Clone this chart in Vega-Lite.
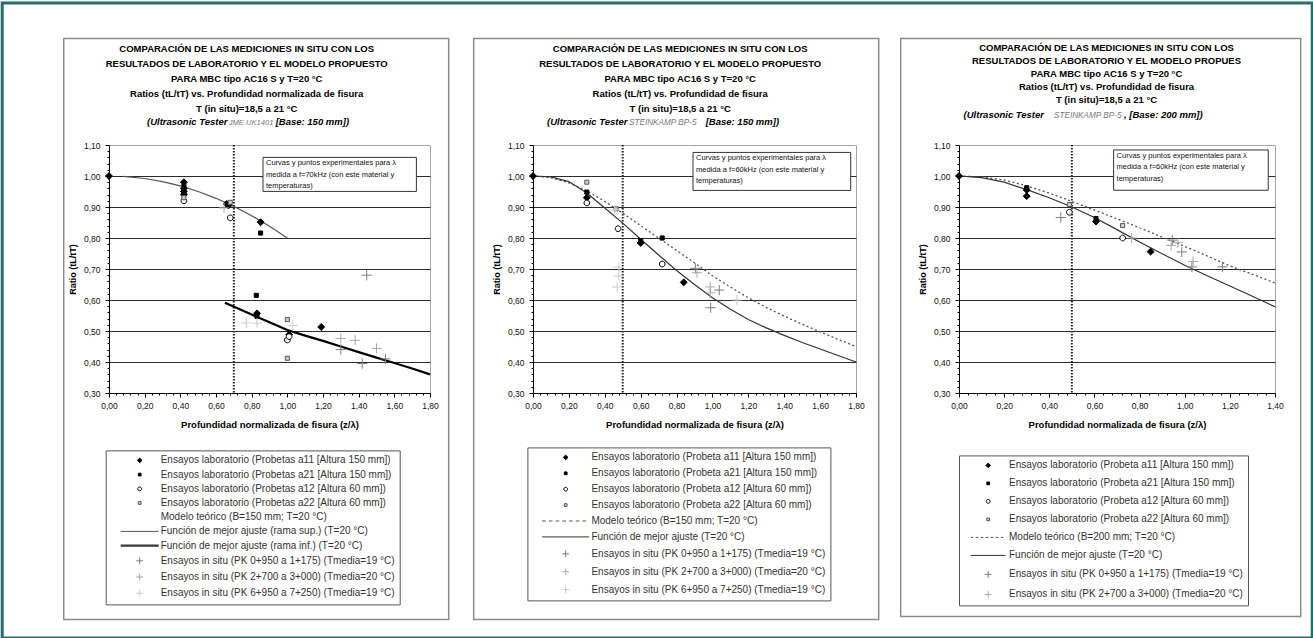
{
"$schema": "https://vega.github.io/schema/vega-lite/v6.json",
"padding": 0,
"background": "white",
"bounds": "flush",
"spacing": 103,
"config": {
 "font": "Liberation Sans",
 "view": {"stroke": "#a5a5a5", "strokeWidth": 1},
 "axis": {"labelFont": "Liberation Sans", "titleFont": "Liberation Sans", "domainColor": "#000", "tickColor": "#000", "labelColor": "#111", "titleColor": "#000", "labelFontSize": 8.5, "titleFontWeight": "bold", "labelFlush": false},
 "axisX": {"labelPadding": 4, "titleFontSize": 9.5, "titlePadding": 10},
 "axisY": {"labelPadding": 5, "titleFontSize": 9, "titlePadding": 6, "gridColor": "#2a2a2a", "gridWidth": 1.2},
 "legend": {"labelFont": "Liberation Sans"},
 "text": {"font": "Liberation Sans"}
},
"resolve": {"scale": {"shape": "independent", "fill": "independent", "stroke": "independent"}, "legend": {"shape": "independent", "fill": "independent", "stroke": "independent"}},
"datasets": {
 "p1pts": [
  {"x":0,"y":1.0,"s":"a11"},{"x":0.42,"y":0.98,"s":"a11"},{"x":0.42,"y":0.96,"s":"a11"},{"x":0.42,"y":0.95,"s":"a11"},{"x":0.42,"y":0.94,"s":"a11"},{"x":0.66,"y":0.91,"s":"a11"},{"x":0.67,"y":0.905,"s":"a11"},{"x":0.85,"y":0.851,"s":"a11"},{"x":0.83,"y":0.557,"s":"a11"},{"x":1.01,"y":0.488,"s":"a11"},{"x":1.19,"y":0.513,"s":"a11"},
  {"x":0.42,"y":0.967,"s":"a21"},{"x":0.85,"y":0.816,"s":"a21"},{"x":0.826,"y":0.615,"s":"a21"},{"x":0.83,"y":0.547,"s":"a21"},
  {"x":0.42,"y":0.92,"s":"a12"},{"x":0.68,"y":0.865,"s":"a12"},{"x":1.0,"y":0.471,"s":"a12"},{"x":1.01,"y":0.482,"s":"a12"},
  {"x":0.42,"y":0.93,"s":"a22"},{"x":0.68,"y":0.915,"s":"a22"},{"x":1.0,"y":0.537,"s":"a22"},{"x":1.0,"y":0.412,"s":"a22"},
  {"x":1.445,"y":0.68,"s":"i1"},{"x":1.3,"y":0.44,"s":"i1"},{"x":1.42,"y":0.395,"s":"i1"},{"x":1.55,"y":0.41,"s":"i1"},
  {"x":1.3,"y":0.476,"s":"i2"},{"x":1.38,"y":0.47,"s":"i2"},{"x":1.5,"y":0.444,"s":"i2"},{"x":0.645,"y":0.897,"s":"i2"},
  {"x":0.77,"y":0.526,"s":"i3"},{"x":0.83,"y":0.525,"s":"i3"},{"x":1.03,"y":0.518,"s":"i3"}
 ],
 "p1lines": [
  {"x":0.08,"y":0.999,"s":"sup"},{"x":0.2,"y":0.992,"s":"sup"},{"x":0.3,"y":0.982,"s":"sup"},{"x":0.4,"y":0.968,"s":"sup"},{"x":0.5,"y":0.95,"s":"sup"},{"x":0.6,"y":0.928,"s":"sup"},{"x":0.7,"y":0.902,"s":"sup"},{"x":0.8,"y":0.872,"s":"sup"},{"x":0.9,"y":0.838,"s":"sup"},{"x":1.0,"y":0.8,"s":"sup"},
  {"x":0.65,"y":0.591,"s":"inf"},{"x":0.8,"y":0.553,"s":"inf"},{"x":0.9,"y":0.528,"s":"inf"},{"x":1.0,"y":0.503,"s":"inf"},{"x":1.1,"y":0.485,"s":"inf"},{"x":1.2,"y":0.468,"s":"inf"},{"x":1.3,"y":0.45,"s":"inf"},{"x":1.4,"y":0.432,"s":"inf"},{"x":1.5,"y":0.414,"s":"inf"},{"x":1.6,"y":0.397,"s":"inf"},{"x":1.7,"y":0.379,"s":"inf"},{"x":1.8,"y":0.36,"s":"inf"}
 ],
 "p2pts": [
  {"x":0,"y":1.0,"s":"a11"},{"x":0.3,"y":0.93,"s":"a11"},{"x":0.6,"y":0.784,"s":"a11"},{"x":0.84,"y":0.657,"s":"a11"},
  {"x":0.3,"y":0.948,"s":"a21"},{"x":0.6,"y":0.792,"s":"a21"},{"x":0.72,"y":0.8,"s":"a21"},
  {"x":0.3,"y":0.913,"s":"a12"},{"x":0.474,"y":0.83,"s":"a12"},{"x":0.72,"y":0.716,"s":"a12"},
  {"x":0.3,"y":0.98,"s":"a22"},{"x":0.463,"y":0.894,"s":"a22"},
  {"x":0.905,"y":0.702,"s":"i1"},{"x":1.038,"y":0.632,"s":"i1"},{"x":0.99,"y":0.575,"s":"i1"},
  {"x":0.914,"y":0.688,"s":"i2"},{"x":0.988,"y":0.642,"s":"i2"},{"x":0.988,"y":0.623,"s":"i2"},
  {"x":0.455,"y":0.89,"s":"i3"},{"x":0.478,"y":0.706,"s":"i3"},{"x":0.478,"y":0.677,"s":"i3"},{"x":0.469,"y":0.642,"s":"i3"},{"x":1.136,"y":0.6,"s":"i3"}
 ],
 "p2lines": [
  {"x":0,"y":1.0,"s":"fit"},{"x":0.1,"y":0.997,"s":"fit"},{"x":0.2,"y":0.982,"s":"fit"},{"x":0.3,"y":0.945,"s":"fit"},{"x":0.4,"y":0.897,"s":"fit"},{"x":0.5,"y":0.848,"s":"fit"},{"x":0.6,"y":0.796,"s":"fit"},{"x":0.7,"y":0.745,"s":"fit"},{"x":0.8,"y":0.695,"s":"fit"},{"x":0.9,"y":0.65,"s":"fit"},{"x":1.0,"y":0.607,"s":"fit"},{"x":1.1,"y":0.57,"s":"fit"},{"x":1.2,"y":0.537,"s":"fit"},{"x":1.3,"y":0.51,"s":"fit"},{"x":1.4,"y":0.486,"s":"fit"},{"x":1.5,"y":0.463,"s":"fit"},{"x":1.6,"y":0.442,"s":"fit"},{"x":1.7,"y":0.421,"s":"fit"},{"x":1.8,"y":0.4,"s":"fit"},
  {"x":0,"y":1.0,"s":"mod"},{"x":0.1,"y":0.995,"s":"mod"},{"x":0.2,"y":0.978,"s":"mod"},{"x":0.3,"y":0.952,"s":"mod"},{"x":0.4,"y":0.918,"s":"mod"},{"x":0.5,"y":0.88,"s":"mod"},{"x":0.6,"y":0.84,"s":"mod"},{"x":0.7,"y":0.8,"s":"mod"},{"x":0.8,"y":0.76,"s":"mod"},{"x":0.9,"y":0.72,"s":"mod"},{"x":1.0,"y":0.678,"s":"mod"},{"x":1.1,"y":0.642,"s":"mod"},{"x":1.2,"y":0.607,"s":"mod"},{"x":1.3,"y":0.576,"s":"mod"},{"x":1.4,"y":0.548,"s":"mod"},{"x":1.5,"y":0.522,"s":"mod"},{"x":1.6,"y":0.497,"s":"mod"},{"x":1.7,"y":0.473,"s":"mod"},{"x":1.8,"y":0.45,"s":"mod"}
 ],
 "p3pts": [
  {"x":0,"y":1.0,"s":"a11"},{"x":0.3,"y":0.955,"s":"a11"},{"x":0.3,"y":0.935,"s":"a11"},{"x":0.607,"y":0.853,"s":"a11"},{"x":0.849,"y":0.756,"s":"a11"},
  {"x":0.3,"y":0.962,"s":"a21"},{"x":0.607,"y":0.863,"s":"a21"},
  {"x":0.489,"y":0.883,"s":"a12"},{"x":0.725,"y":0.8,"s":"a12"},
  {"x":0.489,"y":0.908,"s":"a22"},{"x":0.725,"y":0.84,"s":"a22"},
  {"x":0.451,"y":0.866,"s":"i1"},{"x":0.945,"y":0.793,"s":"i1"},{"x":0.987,"y":0.755,"s":"i1"},{"x":1.032,"y":0.707,"s":"i1"},{"x":1.167,"y":0.707,"s":"i1"},
  {"x":0.765,"y":0.8,"s":"i2"},{"x":0.94,"y":0.776,"s":"i2"},{"x":0.97,"y":0.785,"s":"i2"},{"x":1.037,"y":0.724,"s":"i2"}
 ],
 "p3lines": [
  {"x":0,"y":1.0,"s":"fit"},{"x":0.1,"y":0.995,"s":"fit"},{"x":0.2,"y":0.98,"s":"fit"},{"x":0.3,"y":0.956,"s":"fit"},{"x":0.4,"y":0.93,"s":"fit"},{"x":0.5,"y":0.9,"s":"fit"},{"x":0.6,"y":0.866,"s":"fit"},{"x":0.7,"y":0.827,"s":"fit"},{"x":0.8,"y":0.787,"s":"fit"},{"x":0.9,"y":0.749,"s":"fit"},{"x":1.0,"y":0.712,"s":"fit"},{"x":1.1,"y":0.678,"s":"fit"},{"x":1.2,"y":0.645,"s":"fit"},{"x":1.3,"y":0.612,"s":"fit"},{"x":1.4,"y":0.578,"s":"fit"},
  {"x":0,"y":1.0,"s":"mod"},{"x":0.1,"y":0.997,"s":"mod"},{"x":0.2,"y":0.987,"s":"mod"},{"x":0.3,"y":0.968,"s":"mod"},{"x":0.4,"y":0.945,"s":"mod"},{"x":0.5,"y":0.918,"s":"mod"},{"x":0.6,"y":0.89,"s":"mod"},{"x":0.7,"y":0.862,"s":"mod"},{"x":0.8,"y":0.833,"s":"mod"},{"x":0.9,"y":0.803,"s":"mod"},{"x":1.0,"y":0.773,"s":"mod"},{"x":1.1,"y":0.742,"s":"mod"},{"x":1.2,"y":0.71,"s":"mod"},{"x":1.3,"y":0.683,"s":"mod"},{"x":1.4,"y":0.655,"s":"mod"}
 ]
},
"hconcat": [
 {
  "width": 321, "height": 248,
  "encoding": {
   "x": {"type": "quantitative", "scale": {"domain": [0, 1.8], "nice": false, "zero": false}, "axis": {"title": "Profundidad normalizada de fisura (z/λ)", "values": [0,0.04,0.08,0.12,0.16,0.2,0.24,0.28,0.32,0.36,0.4,0.44,0.48,0.52,0.56,0.6,0.64,0.68,0.72,0.76,0.8,0.84,0.88,0.92,0.96,1,1.04,1.08,1.12,1.16,1.2,1.24,1.28,1.32,1.36,1.4,1.44,1.48,1.52,1.56,1.6,1.64,1.68,1.72,1.76,1.8], "labelExpr": "abs(datum.value*5-round(datum.value*5))<0.01 ? replace(format(datum.value,'.2f'),'.',',') : ''", "labelOverlap": false, "grid": false, "tickSize": {"condition": {"test": "abs(datum.value*5-round(datum.value*5))<0.01", "value": 4}, "value": 2}}},
   "y": {"type": "quantitative", "scale": {"domain": [0.3, 1.1], "nice": false, "zero": false}, "axis": {"title": "Ratio (tL/tT)", "values": [0.3,0.32,0.34,0.36,0.38,0.4,0.42,0.44,0.46,0.48,0.5,0.52,0.54,0.56,0.58,0.6,0.62,0.64,0.66,0.68,0.7,0.72,0.74,0.76,0.78,0.8,0.82,0.84,0.86,0.88,0.9,0.92,0.94,0.96,0.98,1,1.02,1.04,1.06,1.08,1.1], "labelExpr": "abs(datum.value*10-round(datum.value*10))<0.01 ? replace(format(datum.value,'.2f'),'.',',') : ''", "labelOverlap": false, "grid": true, "gridOpacity": {"condition": {"test": "abs(datum.value*10-round(datum.value*10))<0.01 && datum.value<1.05", "value": 1}, "value": 0}, "tickSize": {"condition": {"test": "abs(datum.value*10-round(datum.value*10))<0.01", "value": 4}, "value": 2}}}
  },
  "layer": [
   {"data": {"values": [{}]}, "mark": {"type": "rect", "fill": "transparent", "stroke": "#23706b", "strokeWidth": 3},
    "encoding": {"x": {"datum": -0.59888}, "x2": {"datum": 6.74692}, "y": {"datum": 1.55839}, "y2": {"datum": -0.49}}},
   {"data": {"values": [{}]}, "mark": {"type": "rect", "fill": "transparent", "stroke": "#8c8c8c", "strokeWidth": 1.5},
    "encoding": {"x": {"datum": -0.25402}, "x2": {"datum": 1.90486}, "y": {"datum": 1.44387}, "y2": {"datum": -0.43032}}},
   {"data": {"values": [{}]}, "mark": {"type": "text", "text": ["COMPARACIÓN DE LAS MEDICIONES IN SITU CON LOS","RESULTADOS DE LABORATORIO Y EL MODELO PROPUESTO","PARA MBC tipo AC16 S  y T=20 °C","Ratios (tL/tT) vs. Profundidad normalizada de fisura","T (in situ)=18,5 a 21 °C"], "align": "center", "baseline": "alphabetic", "fontSize": 9.5, "fontWeight": "bold", "lineHeight": 15, "color": "#000"},
    "encoding": {"x": {"datum": 0.7722}, "y": {"datum": 1.4016}}},
   {"data": {"values": [{}]}, "mark": {"type": "text", "text": "(Ultrasonic Tester ", "align": "right", "baseline": "alphabetic", "fontSize": 9.5, "fontWeight": "bold", "fontStyle": "italic", "color": "#000"},
    "encoding": {"x": {"datum": 0.6639}, "y": {"datum": 1.1652}}},
   {"data": {"values": [{}]}, "mark": {"type": "text", "text": "JME UK1401", "align": "left", "baseline": "alphabetic", "fontSize": 7.6, "fontStyle": "italic", "color": "#777"},
    "encoding": {"x": {"datum": 0.6712}, "y": {"datum": 1.1652}}},
   {"data": {"values": [{}]}, "mark": {"type": "text", "text": "[Base: 150 mm])", "align": "left", "baseline": "alphabetic", "fontSize": 9.5, "fontWeight": "bold", "fontStyle": "italic", "color": "#000"},
    "encoding": {"x": {"datum": 0.9345}, "y": {"datum": 1.1652}}},
   {"data": {"values": [{}]}, "mark": {"type": "rect", "fill": "#fff", "stroke": "#333", "strokeWidth": 1},
    "encoding": {"x": {"datum": 0.8636}, "x2": {"datum": 1.7237}, "y": {"datum": 1.06}, "y2": {"datum": 0.9503}}},
   {"data": {"values": [{}]}, "mark": {"type": "text", "text": ["Curvas y puntos experimentales para λ","medida a f=70kHz (con este material y","temperaturas)"], "align": "left", "baseline": "top", "fontSize": 7.5, "lineHeight": 11.3, "color": "#111"},
    "encoding": {"x": {"datum": 0.8804}, "y": {"datum": 1.0535}}},
   {"data": {"values": [{}]}, "mark": {"type": "rule", "stroke": "#222", "strokeDash": [1.5, 1.5], "strokeWidth": 2},
    "encoding": {"x": {"datum": 0.7}, "y": null}},
   {"data": {"name": "p1lines"}, "transform": [{"filter": "datum.s === 'sup'"}], "mark": {"type": "line", "stroke": "#555", "strokeWidth": 1.2},
    "encoding": {"x": {"field": "x"}, "y": {"field": "y"}}},
   {"data": {"name": "p1lines"}, "transform": [{"filter": "datum.s === 'inf'"}], "mark": {"type": "line", "stroke": "#000", "strokeWidth": 2.2},
    "encoding": {"x": {"field": "x"}, "y": {"field": "y"}}},
   {"data": {"name": "p1pts"}, "mark": {"type": "point", "filled": true, "strokeWidth": 1, "opacity": 1, "size": 144},
    "encoding": {
     "x": {"field": "x"}, "y": {"field": "y"},
     "shape": {"field": "s", "type": "nominal",
      "scale": {"domain": ["a11","a21","a12","a22","mod","sup","inf","i1","i2","i3"], "range": ["M0,-0.575L0.575,0L0,0.575L-0.575,0Z","M-0.34,-0.34H0.34V0.34H-0.34Z","M0.475,0A0.475,0.475 0 1,1 -0.475,0A0.475,0.475 0 1,1 0.475,0Z","M-0.34,-0.34H0.34V0.34H-0.34Z","M-4.75,0H4.75","M-4.75,0H4.75","M-4.75,-0.125H4.75M-4.75,0.125H4.75","M-0.85,0H0.85M0,-0.85V0.85","M-0.85,0H0.85M0,-0.85V0.85","M-0.85,0H0.85M0,-0.85V0.85"]},
      "legend": {"title": null, "orient": "none", "legendX": -3.3, "legendY": 305.4, "symbolSize": 64, "symbolStrokeWidth": 1, "padding": 5, "symbolOffset": 24, "labelOffset": 16, "rowPadding": 4.2, "labelFontSize": 10, "labelColor": "#333", "labelLimit": 400, "strokeColor": "#555", "fillColor": "#fff",
       "labelExpr": "{'a11':'Ensayos laboratorio (Probetas a11 [Altura 150 mm])','a21':'Ensayos laboratorio (Probetas a21 [Altura 150 mm])','a12':'Ensayos laboratorio (Probetas a12 [Altura 60 mm])','a22':'Ensayos laboratorio (Probetas a22 [Altura 60 mm])','mod':'Modelo teórico (B=150 mm; T=20 °C)','sup':'Función de mejor ajuste (rama sup.) (T=20 °C)','inf':'Función de mejor ajuste (rama inf.) (T=20 °C)','i1':'Ensayos in situ (PK 0+950 a 1+175) (Tmedia=19 °C)','i2':'Ensayos in situ (PK 2+700 a 3+000) (Tmedia=20 °C)','i3':'Ensayos in situ (PK 6+950 a 7+250) (Tmedia=19 °C)'}[datum.label]"}},
     "fill": {"field": "s", "type": "nominal", "scale": {"domain": ["a11","a21","a12","a22","mod","sup","inf","i1","i2","i3"], "range": ["#000","#000","#fff","#cfcfcf","transparent","transparent","transparent","transparent","transparent","transparent"]}},
     "stroke": {"field": "s", "type": "nominal", "scale": {"domain": ["a11","a21","a12","a22","mod","sup","inf","i1","i2","i3"], "range": ["#000","#000","#000","#555","transparent","#555","#000","#7d7d7d","#a8a8a8","#cccccc"]}}
    }}
  ]
 },
 {
  "width": 323, "height": 248,
  "encoding": {
   "x": {"type": "quantitative", "scale": {"domain": [0, 1.8], "nice": false, "zero": false}, "axis": {"title": "Profundidad normalizada de fisura (z/λ)", "values": [0,0.04,0.08,0.12,0.16,0.2,0.24,0.28,0.32,0.36,0.4,0.44,0.48,0.52,0.56,0.6,0.64,0.68,0.72,0.76,0.8,0.84,0.88,0.92,0.96,1,1.04,1.08,1.12,1.16,1.2,1.24,1.28,1.32,1.36,1.4,1.44,1.48,1.52,1.56,1.6,1.64,1.68,1.72,1.76,1.8], "labelExpr": "abs(datum.value*5-round(datum.value*5))<0.01 ? replace(format(datum.value,'.2f'),'.',',') : ''", "labelOverlap": false, "grid": false, "tickSize": {"condition": {"test": "abs(datum.value*5-round(datum.value*5))<0.01", "value": 4}, "value": 2}}},
   "y": {"type": "quantitative", "scale": {"domain": [0.3, 1.1], "nice": false, "zero": false}, "axis": {"title": "Ratio (tL/tT)", "values": [0.3,0.32,0.34,0.36,0.38,0.4,0.42,0.44,0.46,0.48,0.5,0.52,0.54,0.56,0.58,0.6,0.62,0.64,0.66,0.68,0.7,0.72,0.74,0.76,0.78,0.8,0.82,0.84,0.86,0.88,0.9,0.92,0.94,0.96,0.98,1,1.02,1.04,1.06,1.08,1.1], "labelExpr": "abs(datum.value*10-round(datum.value*10))<0.01 ? replace(format(datum.value,'.2f'),'.',',') : ''", "labelOverlap": false, "grid": true, "gridOpacity": {"condition": {"test": "abs(datum.value*10-round(datum.value*10))<0.01 && datum.value<1.05", "value": 1}, "value": 0}, "tickSize": {"condition": {"test": "abs(datum.value*10-round(datum.value*10))<0.01", "value": 4}, "value": 2}}}
  },
  "layer": [
   {"data": {"values": [{}]}, "mark": {"type": "rect", "fill": "transparent", "stroke": "#8c8c8c", "strokeWidth": 1.5},
    "encoding": {"x": {"datum": -0.33046}, "x2": {"datum": 1.92651}, "y": {"datum": 1.44387}, "y2": {"datum": -0.43032}}},
   {"data": {"values": [{}]}, "mark": {"type": "text", "text": ["COMPARACIÓN DE LAS MEDICIONES IN SITU CON LOS","RESULTADOS DE LABORATORIO Y EL MODELO PROPUESTO","PARA MBC tipo AC16 S  y T=20 °C","Ratios (tL/tT) vs. Profundidad de fisura","T (in situ)=18,5 a 21 °C"], "align": "center", "baseline": "alphabetic", "fontSize": 9.5, "fontWeight": "bold", "lineHeight": 15, "color": "#000"},
    "encoding": {"x": {"datum": 0.8203}, "y": {"datum": 1.4016}}},
   {"data": {"values": [{}]}, "mark": {"type": "text", "text": "(Ultrasonic Tester ", "align": "right", "baseline": "alphabetic", "fontSize": 9.5, "fontWeight": "bold", "fontStyle": "italic", "color": "#000"},
    "encoding": {"x": {"datum": 0.5261}, "y": {"datum": 1.1652}}},
   {"data": {"values": [{}]}, "mark": {"type": "text", "text": "STEINKAMP BP-5", "align": "left", "baseline": "alphabetic", "fontSize": 8.2, "fontStyle": "italic", "color": "#777"},
    "encoding": {"x": {"datum": 0.535}, "y": {"datum": 1.1652}}},
   {"data": {"values": [{}]}, "mark": {"type": "text", "text": "[Base: 150 mm])", "align": "left", "baseline": "alphabetic", "fontSize": 9.5, "fontWeight": "bold", "fontStyle": "italic", "color": "#000"},
    "encoding": {"x": {"datum": 0.9624}, "y": {"datum": 1.1652}}},
   {"data": {"values": [{}]}, "mark": {"type": "rect", "fill": "#fff", "stroke": "#333", "strokeWidth": 1},
    "encoding": {"x": {"datum": 0.8916}, "x2": {"datum": 1.7705}, "y": {"datum": 1.0761}, "y2": {"datum": 0.9535}}},
   {"data": {"values": [{}]}, "mark": {"type": "text", "text": ["Curvas y puntos experimentales para λ","medida a f=60kHz (con este material y","temperaturas)"], "align": "left", "baseline": "top", "fontSize": 7.5, "lineHeight": 11.3, "color": "#111"},
    "encoding": {"x": {"datum": 0.9083}, "y": {"datum": 1.0696}}},
   {"data": {"values": [{}]}, "mark": {"type": "rule", "stroke": "#222", "strokeDash": [1.5, 1.5], "strokeWidth": 2},
    "encoding": {"x": {"datum": 0.5}, "y": null}},
   {"data": {"name": "p2lines"}, "transform": [{"filter": "datum.s === 'mod'"}], "mark": {"type": "line", "stroke": "#555", "strokeWidth": 1.3, "strokeDash": [2, 2.5]},
    "encoding": {"x": {"field": "x"}, "y": {"field": "y"}}},
   {"data": {"name": "p2lines"}, "transform": [{"filter": "datum.s === 'fit'"}], "mark": {"type": "line", "stroke": "#333", "strokeWidth": 1.2},
    "encoding": {"x": {"field": "x"}, "y": {"field": "y"}}},
   {"data": {"name": "p2pts"}, "mark": {"type": "point", "filled": true, "strokeWidth": 1, "opacity": 1, "size": 144},
    "encoding": {
     "x": {"field": "x"}, "y": {"field": "y"},
     "shape": {"field": "s", "type": "nominal",
      "scale": {"domain": ["a11","a21","a12","a22","mod","fit","i1","i2","i3"], "range": ["M0,-0.575L0.575,0L0,0.575L-0.575,0Z","M-0.34,-0.34H0.34V0.34H-0.34Z","M0.475,0A0.475,0.475 0 1,1 -0.475,0A0.475,0.475 0 1,1 0.475,0Z","M-0.34,-0.34H0.34V0.34H-0.34Z","M-5.875,0H-4.975M-4.196,0H-3.296M-2.518,0H-1.618M-0.839,0H0.061M0.839,0H1.739M2.518,0H3.418M4.196,0H5.096","M-5.875,0H5.875","M-0.85,0H0.85M0,-0.85V0.85","M-0.85,0H0.85M0,-0.85V0.85","M-0.85,0H0.85M0,-0.85V0.85"]},
      "legend": {"title": null, "orient": "none", "legendX": -5.6, "legendY": 302.4, "symbolSize": 64, "symbolStrokeWidth": 1, "padding": 5, "symbolOffset": 28.3, "labelOffset": 20.7, "rowPadding": 5.9, "labelFontSize": 10, "labelColor": "#333", "labelLimit": 400, "strokeColor": "#555", "fillColor": "#fff",
       "labelExpr": "{'a11':'Ensayos laboratorio (Probeta a11 [Altura 150 mm])','a21':'Ensayos laboratorio (Probeta a21 [Altura 150 mm])','a12':'Ensayos laboratorio (Probeta a12 [Altura 60 mm])','a22':'Ensayos laboratorio (Probeta a22 [Altura 60 mm])','mod':'Modelo teórico (B=150 mm; T=20 °C)','fit':'Función de mejor ajuste (T=20 °C)','i1':'Ensayos in situ (PK 0+950 a 1+175) (Tmedia=19 °C)','i2':'Ensayos in situ (PK 2+700 a 3+000) (Tmedia=20 °C)','i3':'Ensayos in situ (PK 6+950 a 7+250) (Tmedia=19 °C)'}[datum.label]"}},
     "fill": {"field": "s", "type": "nominal", "scale": {"domain": ["a11","a21","a12","a22","mod","fit","i1","i2","i3"], "range": ["#000","#000","#fff","#cfcfcf","transparent","transparent","transparent","transparent","transparent"]}},
     "stroke": {"field": "s", "type": "nominal", "scale": {"domain": ["a11","a21","a12","a22","mod","fit","i1","i2","i3"], "range": ["#000","#000","#000","#555","#555","#333","#7d7d7d","#a8a8a8","#cccccc"]}}
    }}
  ]
 },
 {
  "width": 316, "height": 248,
  "encoding": {
   "x": {"type": "quantitative", "scale": {"domain": [0, 1.4], "nice": false, "zero": false}, "axis": {"title": "Profundidad normalizada de fisura (z/λ)", "values": [0,0.04,0.08,0.12,0.16,0.2,0.24,0.28,0.32,0.36,0.4,0.44,0.48,0.52,0.56,0.6,0.64,0.68,0.72,0.76,0.8,0.84,0.88,0.92,0.96,1,1.04,1.08,1.12,1.16,1.2,1.24,1.28,1.32,1.36,1.4], "labelExpr": "abs(datum.value*5-round(datum.value*5))<0.01 ? replace(format(datum.value,'.2f'),'.',',') : ''", "labelOverlap": false, "grid": false, "tickSize": {"condition": {"test": "abs(datum.value*5-round(datum.value*5))<0.01", "value": 4}, "value": 2}}},
   "y": {"type": "quantitative", "scale": {"domain": [0.3, 1.1], "nice": false, "zero": false}, "axis": {"title": "Ratio (tL/tT)", "values": [0.3,0.32,0.34,0.36,0.38,0.4,0.42,0.44,0.46,0.48,0.5,0.52,0.54,0.56,0.58,0.6,0.62,0.64,0.66,0.68,0.7,0.72,0.74,0.76,0.78,0.8,0.82,0.84,0.86,0.88,0.9,0.92,0.94,0.96,0.98,1,1.02,1.04,1.06,1.08,1.1], "labelExpr": "abs(datum.value*10-round(datum.value*10))<0.01 ? replace(format(datum.value,'.2f'),'.',',') : ''", "labelOverlap": false, "grid": true, "gridOpacity": {"condition": {"test": "abs(datum.value*10-round(datum.value*10))<0.01 && datum.value<1.05", "value": 1}, "value": 0}, "tickSize": {"condition": {"test": "abs(datum.value*10-round(datum.value*10))<0.01", "value": 4}, "value": 2}}}
  },
  "layer": [
   {"data": {"values": [{}]}, "mark": {"type": "rect", "fill": "transparent", "stroke": "#8c8c8c", "strokeWidth": 1.5},
    "encoding": {"x": {"datum": -0.25829}, "x2": {"datum": 1.51386}, "y": {"datum": 1.44387}, "y2": {"datum": -0.42065}}},
   {"data": {"values": [{}]}, "mark": {"type": "text", "text": ["COMPARACIÓN DE LAS MEDICIONES IN SITU CON LOS","RESULTADOS DE LABORATORIO Y EL MODELO PROPUES","PARA MBC tipo AC16 S  y T=20 °C","Ratios (tL/tT) vs. Profundidad de fisura","T (in situ)=18,5 a 21 °C"], "align": "center", "baseline": "alphabetic", "fontSize": 9.5, "fontWeight": "bold", "lineHeight": 13.1, "color": "#000"},
    "encoding": {"x": {"datum": 0.6535}, "y": {"datum": 1.4039}}},
   {"data": {"values": [{}]}, "mark": {"type": "text", "text": "(Ultrasonic Tester ", "align": "right", "baseline": "alphabetic", "fontSize": 9.5, "fontWeight": "bold", "fontStyle": "italic", "color": "#000"},
    "encoding": {"x": {"datum": 0.3766}, "y": {"datum": 1.1868}}},
   {"data": {"values": [{}]}, "mark": {"type": "text", "text": "STEINKAMP BP-5", "align": "left", "baseline": "alphabetic", "fontSize": 8.2, "fontStyle": "italic", "color": "#777"},
    "encoding": {"x": {"datum": 0.4209}, "y": {"datum": 1.1868}}},
   {"data": {"values": [{}]}, "mark": {"type": "text", "text": ",  [Base: 200 mm])", "align": "left", "baseline": "alphabetic", "fontSize": 9.5, "fontWeight": "bold", "fontStyle": "italic", "color": "#000"},
    "encoding": {"x": {"datum": 0.731}, "y": {"datum": 1.1868}}},
   {"data": {"values": [{}]}, "mark": {"type": "rect", "fill": "#fff", "stroke": "#333", "strokeWidth": 1},
    "encoding": {"x": {"datum": 0.685}, "x2": {"datum": 1.37}, "y": {"datum": 1.084}, "y2": {"datum": 0.954}}},
   {"data": {"values": [{}]}, "mark": {"type": "text", "text": ["Curvas y puntos experimentales para λ","medida a f=60kHz (con este material y","temperaturas)"], "align": "left", "baseline": "top", "fontSize": 7.5, "lineHeight": 11.3, "color": "#111"},
    "encoding": {"x": {"datum": 0.6983}, "y": {"datum": 1.0775}}},
   {"data": {"values": [{}]}, "mark": {"type": "rule", "stroke": "#222", "strokeDash": [1.5, 1.5], "strokeWidth": 2},
    "encoding": {"x": {"datum": 0.5}, "y": null}},
   {"data": {"name": "p3lines"}, "transform": [{"filter": "datum.s === 'mod'"}], "mark": {"type": "line", "stroke": "#555", "strokeWidth": 1.3, "strokeDash": [2, 2.5]},
    "encoding": {"x": {"field": "x"}, "y": {"field": "y"}}},
   {"data": {"name": "p3lines"}, "transform": [{"filter": "datum.s === 'fit'"}], "mark": {"type": "line", "stroke": "#333", "strokeWidth": 1.2},
    "encoding": {"x": {"field": "x"}, "y": {"field": "y"}}},
   {"data": {"name": "p3pts"}, "mark": {"type": "point", "filled": true, "strokeWidth": 1, "opacity": 1, "size": 144},
    "encoding": {
     "x": {"field": "x"}, "y": {"field": "y"},
     "shape": {"field": "s", "type": "nominal",
      "scale": {"domain": ["a11","a21","a12","a22","mod","fit","i1","i2"], "range": ["M0,-0.575L0.575,0L0,0.575L-0.575,0Z","M-0.34,-0.34H0.34V0.34H-0.34Z","M0.475,0A0.475,0.475 0 1,1 -0.475,0A0.475,0.475 0 1,1 0.475,0Z","M-0.34,-0.34H0.34V0.34H-0.34Z","M-4.375,0H-3.725M-3.125,0H-2.475M-1.875,0H-1.225M-0.625,0H0.025M0.625,0H1.275M1.875,0H2.525M3.125,0H3.775","M-4.375,0H4.375","M-0.85,0H0.85M0,-0.85V0.85","M-0.85,0H0.85M0,-0.85V0.85"]},
      "legend": {"title": null, "orient": "none", "legendX": 0, "legendY": 310.4, "symbolSize": 64, "symbolStrokeWidth": 1, "padding": 5, "symbolOffset": 19.2, "labelOffset": 15.8, "rowPadding": 8.0, "labelFontSize": 10, "labelColor": "#333", "labelLimit": 400, "strokeColor": "#555", "fillColor": "#fff",
       "labelExpr": "{'a11':'Ensayos laboratorio (Probeta a11 [Altura 150 mm])','a21':'Ensayos laboratorio (Probeta a21 [Altura 150 mm])','a12':'Ensayos laboratorio (Probeta a12 [Altura 60 mm])','a22':'Ensayos laboratorio (Probeta a22 [Altura 60 mm])','mod':'Modelo teórico (B=200 mm; T=20 °C)','fit':'Función de mejor ajuste (T=20 °C)','i1':'Ensayos in situ (PK 0+950 a 1+175) (Tmedia=19 °C)','i2':'Ensayos in situ (PK 2+700 a 3+000) (Tmedia=20 °C)'}[datum.label]"}},
     "fill": {"field": "s", "type": "nominal", "scale": {"domain": ["a11","a21","a12","a22","mod","fit","i1","i2"], "range": ["#000","#000","#fff","#cfcfcf","transparent","transparent","transparent","transparent"]}},
     "stroke": {"field": "s", "type": "nominal", "scale": {"domain": ["a11","a21","a12","a22","mod","fit","i1","i2"], "range": ["#000","#000","#000","#555","#555","#333","#7d7d7d","#a8a8a8"]}}
    }}
  ]
 }
]
}
